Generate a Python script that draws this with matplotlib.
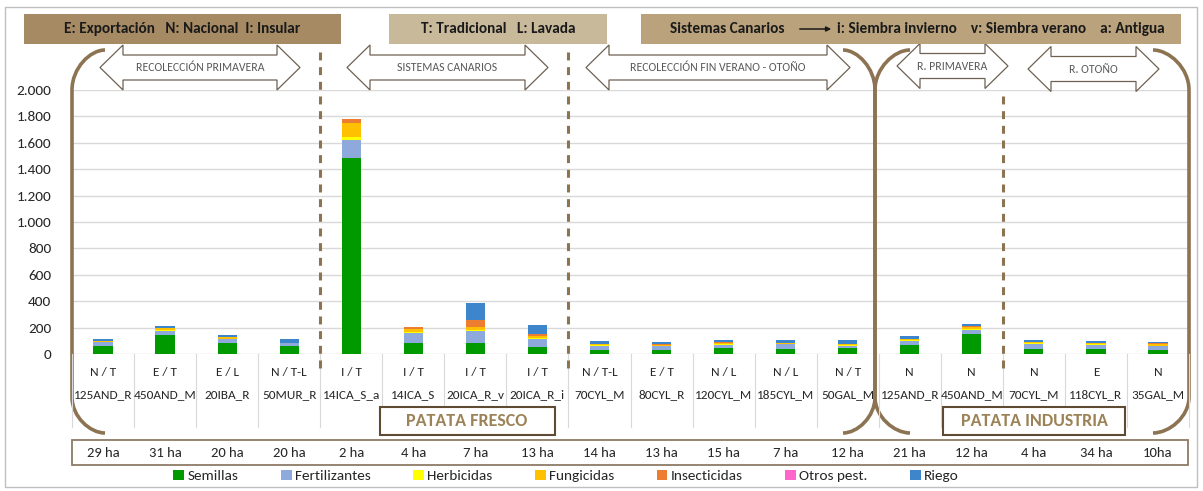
import numpy as np
import matplotlib
matplotlib.use('Agg')
import matplotlib.pyplot as plt
from matplotlib import font_manager
from matplotlib.patches import Rectangle, Polygon, PathPatch
from matplotlib.path import Path
from matplotlib.transforms import blended_transform_factory
from matplotlib.ticker import FuncFormatter

names_installed = set(f.name for f in font_manager.fontManager.ttflist)
font = next(f for f in ['Carlito', 'Lato', 'DejaVu Sans'] if f in names_installed)
plt.rcParams['font.family'] = [font, 'DejaVu Sans']

# --- data ---
tipos = ['N / T', 'E / T', 'E / L', 'N / T-L', 'I / T', 'I / T', 'I / T', 'I / T',
         'N / T-L', 'E / T', 'N / L', 'N / L', 'N / T', 'N', 'N', 'N', 'E', 'N']
fincas = ['125AND_R', '450AND_M', '20IBA_R', '50MUR_R', '14ICA_S_a', '14ICA_S',
          '20ICA_R_v', '20ICA_R_i', '70CYL_M', '80CYL_R', '120CYL_M', '185CYL_M',
          '50GAL_M', '125AND_R', '450AND_M', '70CYL_M', '118CYL_R', '35GAL_M']
superficie = ['29 ha', '31 ha', '20 ha', '20 ha', '2 ha', '4 ha', '7 ha', '13 ha', '14 ha',
              '13 ha', '15 ha', '7 ha', '12 ha', '21 ha', '12 ha', '4 ha', '34 ha', '10ha']

semillas      = [64, 141, 85, 64, 1485, 87, 85, 56, 31, 31, 49, 41, 49, 69, 154, 38, 41, 31]
fertilizantes = [24, 36, 25, 16, 137, 72, 92, 54, 30, 30, 20, 33, 15, 31, 30, 40, 28, 26]
herbicidas    = [6, 6, 4, 3, 23, 5, 8, 8, 5, 3, 5, 3, 4, 5, 6, 5, 5, 6]
fungicidas    = [4, 12, 12, 4, 106, 28, 23, 15, 8, 6, 12, 5, 8, 7, 14, 6, 7, 12]
insecticidas  = [0, 2, 0, 0, 28, 10, 46, 15, 0, 2, 8, 0, 2, 0, 6, 0, 0, 6]
otros_pest    = [0, 0, 0, 0, 0, 0, 0, 0, 0, 0, 0, 0, 0, 0, 0, 0, 0, 0]
riego         = [17, 18, 18, 28, 0, 0, 130, 74, 26, 20, 14, 26, 30, 26, 20, 19, 16, 9]

series = [semillas, fertilizantes, herbicidas, fungicidas, insecticidas, otros_pest, riego]
series_names = ['Semillas', 'Fertilizantes', 'Herbicidas', 'Fungicidas', 'Insecticidas',
                'Otros pest.', 'Riego']
colors = ['#009900', '#8EA9DB', '#FFFF00', '#FFC000', '#ED7D31', '#FF66CC', '#3D86CC']

BROWN = '#8C7352'
W, H = 1203, 491
fig = plt.figure(figsize=(W / 100, H / 100), dpi=100)
ax = fig.add_axes([72 / W, 1 - 354 / H, (1189 - 72) / W, (354 - 90) / H])
ov = fig.add_axes([0, 0, 1, 1], zorder=5)
ov.patch.set_alpha(0)
ov.axis('off')
ov.set_xlim(0, W)
ov.set_ylim(H, 0)
ov.autoscale(False)

x = np.arange(len(fincas))
bottom = np.zeros(len(x))
for vals, lab, col in zip(series, series_names, colors):
    ax.bar(x, vals, width=0.31, bottom=bottom, color=col, label=lab, linewidth=0)
    bottom += np.array(vals)

ax.set_xlim(-0.5, len(x) - 0.5)
ax.set_ylim(0, 2000)
ax.set_yticks(np.arange(0, 2001, 200))
ax.yaxis.set_major_formatter(FuncFormatter(lambda v, p: f'{int(v):,}'.replace(',', '.')))
ax.tick_params(axis='y', length=0, pad=15, labelsize=11, labelcolor='#262626')
ax.set_xticks([])
for s in ax.spines.values():
    s.set_visible(False)
ax.grid(axis='y', color='#D9D9D9', lw=1)
ax.set_axisbelow(True)
ax.patch.set_alpha(0)

tr = blended_transform_factory(ax.transData, ov.transData)

# table-like category axis
for b in np.arange(-0.5, len(x), 1):
    ov.plot([b, b], [354, 427], transform=tr, color='#D9D9D9', lw=0.8)
for i in x:
    ov.text(i, 372, tipos[i], transform=tr, ha='center', va='center', fontsize=9.5, color='#262626')
    ov.text(i, 395, fincas[i], transform=tr, ha='center', va='center', fontsize=9.5, color='#262626')
    ov.text(i, 453, superficie[i], transform=tr, ha='center', va='center', fontsize=10.5, color='#262626')

# dashed separators between groups
for b, y0 in [(3.5, 52), (7.5, 52), (14.5, 96)]:
    ov.plot([b, b], [y0, 372], transform=tr, color=BROWN, lw=2.2, dashes=(2.6, 2.2))

# brackets
C4, MV, LT = Path.CURVE4, Path.MOVETO, Path.LINETO
def bracket(x_end, x_line, y_top=50, y_bot=433):
    verts = [(x_end, y_top), (x_line + 0.55 * (x_end - x_line), y_top), (x_line, y_top + 18), (x_line, y_top + 40),
             (x_line, y_bot - 36), (x_line, y_bot - 16), (x_line + 0.55 * (x_end - x_line), y_bot), (x_end, y_bot)]
    codes = [MV, C4, C4, C4, LT, C4, C4, C4]
    ov.add_patch(PathPatch(Path(verts, codes), fc='none', ec=BROWN, lw=2.6, capstyle='butt'))

bracket(105, 72)
bracket(843, 875)
bracket(910, 875)
bracket(1153, 1189)

# double arrows
def double_arrow(x0, x1, cy, label, hw=23, hh=22.5, sh=12.5):
    pts = [(x0, cy), (x0 + hw, cy - hh), (x0 + hw, cy - sh), (x1 - hw, cy - sh), (x1 - hw, cy - hh),
           (x1, cy), (x1 - hw, cy + hh), (x1 - hw, cy + sh), (x0 + hw, cy + sh), (x0 + hw, cy + hh)]
    ov.add_patch(Polygon(pts, closed=True, fc='white', ec='#6E6152', lw=0.9))
    ov.text((x0 + x1) / 2, cy, label, ha='center', va='center', fontsize=8.5, color='#595959')

double_arrow(100, 300, 67.5, 'RECOLECCIÓN PRIMAVERA')
double_arrow(347, 548, 67.5, 'SISTEMAS CANARIOS')
double_arrow(586, 850, 67.5, 'RECOLECCIÓN FIN VERANO - OTOÑO')
double_arrow(897, 1008, 66, 'R. PRIMAVERA')
double_arrow(1028, 1159, 69, 'R. OTOÑO')

# header boxes
ov.add_patch(Rectangle((24, 14), 317, 30, fc='#A68A64', ec='none'))
ov.text(182, 29, 'E: Exportación   N: Nacional  I: Insular', ha='center', va='center',
        fontsize=11, fontweight='bold', color='#1A1A1A')
ov.add_patch(Rectangle((389, 14), 218, 30, fc='#C9B99B', ec='none'))
ov.text(498, 29, 'T: Tradicional   L: Lavada', ha='center', va='center',
        fontsize=11, fontweight='bold', color='#1A1A1A')
ov.add_patch(Rectangle((641, 14), 540, 30, fc='#B9A27C', ec='none'))
ov.text(784, 29, 'Sistemas Canarios', ha='right', va='center',
        fontsize=11, fontweight='bold', color='#1A1A1A')
ov.annotate('', xy=(834, 29), xytext=(797, 29),
            arrowprops=dict(arrowstyle='-|>', color='#1A1A1A', lw=1.1, mutation_scale=7))
ov.text(837, 29, 'i: Siembra invierno    v: Siembra verano    a: Antigua', ha='left', va='center',
        fontsize=11, fontweight='bold', color='#1A1A1A')

# product boxes
ov.add_patch(Rectangle((380, 407), 175, 28, fc='white', ec='#5E4B33', lw=1.5, zorder=3))
ov.text(467, 421, 'PATATA FRESCO', ha='center', va='center', fontsize=13,
        fontweight='bold', color='#9C8257', zorder=4)
ov.add_patch(Rectangle((943, 407), 182, 28, fc='white', ec='#5E4B33', lw=1.5, zorder=3))
ov.text(1034, 421, 'PATATA INDUSTRIA', ha='center', va='center', fontsize=13,
        fontweight='bold', color='#9C8257', zorder=4)

# surface row frame and outer border
ov.add_patch(Rectangle((72, 440), 1116, 25, fc='none', ec='#8C7B66', lw=1.3))
ov.add_patch(Rectangle((5, 7), 1192, 480, fc='none', ec='#BFBFBF', lw=1))

handles, labels = ax.get_legend_handles_labels()
fig.legend(handles, labels, loc='center', bbox_to_anchor=(566 / W, 1 - 476 / H), ncol=7,
           frameon=False, fontsize=11, handlelength=0.7, handleheight=0.7,
           handletextpad=0.2, columnspacing=2.8, labelcolor='#262626')

fig.savefig('out.png', dpi=100)
